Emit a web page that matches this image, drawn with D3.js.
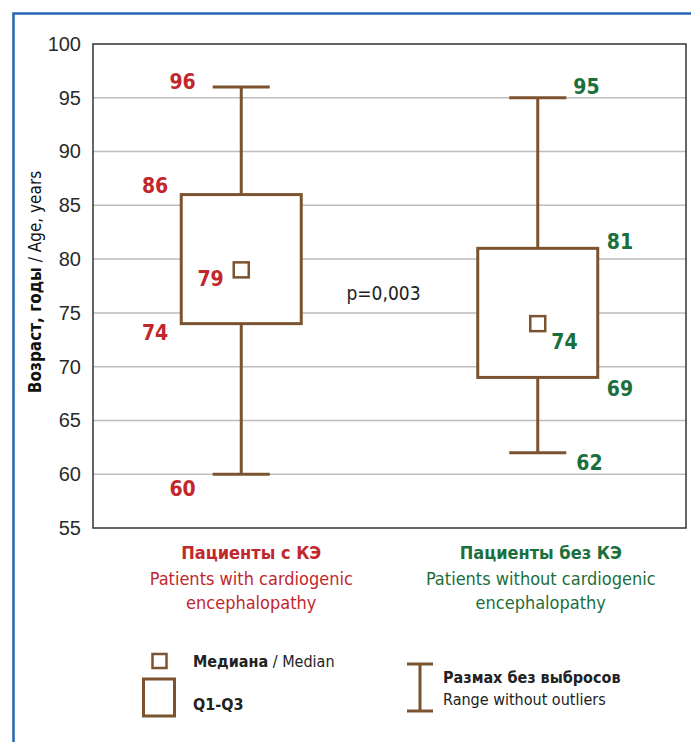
<!DOCTYPE html>
<html>
<head>
<meta charset="utf-8">
<script src="https://cdn.jsdelivr.net/npm/d3@7"></script>
<style>
  body { margin: 0; background: #fff; }
  svg { display: block; font-family: "Liberation Sans Narrow", "DejaVu Sans Condensed", "Roboto", sans-serif; }
</style>
</head>
<body>
<svg id="chart" width="691" height="742"></svg>
<script>
// данные (box plot)
const groupsRu = ["Пациенты с КЭ", "Пациенты без КЭ"];
const groupsEn = [["Patients with cardiogenic", "encephalopathy"], ["Patients without cardiogenic", "encephalopathy"]];
const mins = [60, 62];
const q1s = [74, 69];
const medians = [79, 74];
const q3s = [86, 81];
const maxs = [96, 95];
const yTicks = [55, 60, 65, 70, 75, 80, 85, 90, 95, 100];
const pText = "p=0,003";

const brown = "#7b5330";
const groupColors = ["#c1272d", "#1b6f3c"];

const width = 691, height = 742;
const margin = { top: 44, right: 5, bottom: 214, left: 93 };

const svg = d3.select("#chart");

// синяя рамка
svg.append("path")
  .attr("d", `M13.5,${height} V13.5 H${width}`)
  .attr("fill", "none")
  .attr("stroke", "#2766b0")
  .attr("stroke-width", 2.5);

const x = d3.scaleBand()
  .domain(groupsRu)
  .range([margin.left, width - margin.right]);

const y = d3.scaleLinear()
  .domain([55, 100])
  .range([height - margin.bottom, margin.top]);

const cx = d => x(d) + x.bandwidth() / 2;

// сетка
svg.append("g")
  .selectAll("line")
  .data(yTicks.filter(t => t > 55 && t < 100))
  .enter().append("line")
  .attr("x1", margin.left).attr("x2", width - margin.right)
  .attr("y1", d => y(d)).attr("y2", d => y(d))
  .attr("stroke", "#bdbdbd")
  .attr("stroke-width", 1.5);

// рамка графика
svg.append("rect")
  .attr("x", margin.left).attr("y", y(100))
  .attr("width", width - margin.right - margin.left)
  .attr("height", y(55) - y(100))
  .attr("fill", "none")
  .attr("stroke", "#333")
  .attr("stroke-width", 1.5);

// ось Y
const yAxis = svg.append("g")
  .attr("transform", `translate(${margin.left},0)`)
  .call(d3.axisLeft(y).tickValues(yTicks).tickSize(0).tickPadding(12));
yAxis.select(".domain").remove();
yAxis.selectAll("text")
  .style("font-family", "inherit")
  .style("font-size", "20px")
  .attr("fill", "#2a2a2a");

// подпись оси Y
const yTitle = svg.append("text")
  .attr("transform", `translate(41,${(y(55) + y(100)) / 2 - 4})rotate(-90)`)
  .attr("text-anchor", "middle")
  .style("font-size", "17px")
  .attr("fill", "#111");
yTitle.append("tspan").attr("font-weight", "bold").text("Возраст, годы");
yTitle.append("tspan").text(" / Age, years");

const boxW = 120, capW = 57, medW = 15;

const groups = groupsRu.map((g, i) => ({
  name: g, i: i, min: mins[i], q1: q1s[i], med: medians[i], q3: q3s[i], max: maxs[i]
}));

const gBox = svg.selectAll(".box")
  .data(groups)
  .enter().append("g")
  .attr("class", "box");

// усы
gBox.append("line")
  .attr("x1", d => cx(d.name)).attr("x2", d => cx(d.name))
  .attr("y1", d => y(d.min)).attr("y2", d => y(d.max))
  .attr("stroke", brown).attr("stroke-width", 3);

gBox.selectAll(".cap")
  .data(d => [[d.name, d.min], [d.name, d.max]])
  .enter().append("line")
  .attr("x1", d => cx(d[0]) - capW / 2).attr("x2", d => cx(d[0]) + capW / 2)
  .attr("y1", d => y(d[1])).attr("y2", d => y(d[1]))
  .attr("stroke", brown).attr("stroke-width", 3);

// коробка Q1-Q3
gBox.append("rect")
  .attr("x", d => cx(d.name) - boxW / 2)
  .attr("y", d => y(d.q3))
  .attr("width", boxW)
  .attr("height", d => y(d.q1) - y(d.q3))
  .attr("fill", "#fff")
  .attr("stroke", brown).attr("stroke-width", 3);

// медиана
gBox.append("rect")
  .attr("x", d => cx(d.name) - medW / 2)
  .attr("y", d => y(d.med) - medW / 2)
  .attr("width", medW).attr("height", medW)
  .attr("fill", "#fff")
  .attr("stroke", brown).attr("stroke-width", 2.5);

// подписи значений: слева для первой группы, справа для второй
const labelLayout = [
  { side: -1, off: { max: [capW / 2 + 17, -5], q3: [boxW / 2 + 13, -9], med: [medW / 2 + 10, 9], q1: [boxW / 2 + 13, 9], min: [capW / 2 + 17, 15] } },
  { side: 1, off: { max: [capW / 2 + 7, -11], q3: [boxW / 2 + 9, -6], med: [medW / 2 + 6, 18], q1: [boxW / 2 + 9, 12], min: [capW / 2 + 10, 10] } }
];

gBox.each(function(d) {
  const lay = labelLayout[d.i];
  const g = d3.select(this);
  ["max", "q3", "med", "q1", "min"].forEach(k => {
    g.append("text")
      .attr("x", cx(d.name) + lay.side * lay.off[k][0])
      .attr("y", y(d[k]) + lay.off[k][1])
      .attr("text-anchor", lay.side < 0 ? "end" : "start")
      .attr("dominant-baseline", "central")
      .attr("font-weight", "bold")
      .style("font-size", "21px")
      .attr("fill", groupColors[d.i])
      .text(d[k]);
  });
});

// p-value
svg.append("text")
  .attr("x", (cx(groupsRu[0]) + cx(groupsRu[1])) / 2 - 6)
  .attr("y", y(77) + 2)
  .attr("text-anchor", "middle")
  .attr("dominant-baseline", "central")
  .style("font-size", "19px")
  .attr("fill", "#222")
  .text(pText);

// подписи категорий
const cat = svg.selectAll(".cat")
  .data(groups)
  .enter().append("text")
  .attr("class", "cat")
  .attr("text-anchor", "middle")
  .attr("fill", d => groupColors[d.i])
  .style("font-size", "18px");

cat.append("tspan")
  .attr("x", d => cx(d.name) + (d.i === 0 ? 10 : 3))
  .attr("y", 559)
  .attr("font-weight", "bold")
  .text(d => d.name);

cat.each(function(d) {
  d3.select(this).selectAll(".en")
    .data(groupsEn[d.i])
    .enter().append("tspan")
    .attr("x", cx(d.name) + (d.i === 0 ? 10 : 3))
    .attr("y", (t, j) => 585 + j * 24)
    .text(t => t);
});

// легенда
const leg = svg.append("g").style("font-size", "16px").attr("fill", "#222");

leg.append("rect")
  .attr("x", 152.5).attr("y", 654).attr("width", 14).attr("height", 14)
  .attr("fill", "#fff").attr("stroke", brown).attr("stroke-width", 2.5);
leg.append("rect")
  .attr("x", 143.5).attr("y", 679).attr("width", 31).attr("height", 37)
  .attr("fill", "#fff").attr("stroke", brown).attr("stroke-width", 3);

const l1 = leg.append("text").attr("x", 193).attr("y", 667);
l1.append("tspan").attr("font-weight", "bold").text("Медиана");
l1.append("tspan").text(" / Median");
leg.append("text").attr("x", 193).attr("y", 710).attr("font-weight", "bold").text("Q1-Q3");

leg.append("line").attr("x1", 420).attr("x2", 420).attr("y1", 664).attr("y2", 711)
  .attr("stroke", brown).attr("stroke-width", 3);
leg.append("line").attr("x1", 407).attr("x2", 433).attr("y1", 664).attr("y2", 664)
  .attr("stroke", brown).attr("stroke-width", 3);
leg.append("line").attr("x1", 407).attr("x2", 433).attr("y1", 711).attr("y2", 711)
  .attr("stroke", brown).attr("stroke-width", 3);

leg.append("text").attr("x", 443).attr("y", 683).attr("font-weight", "bold").text("Размах без выбросов");
leg.append("text").attr("x", 443).attr("y", 705).text("Range without outliers");
</script>
</body>
</html>
